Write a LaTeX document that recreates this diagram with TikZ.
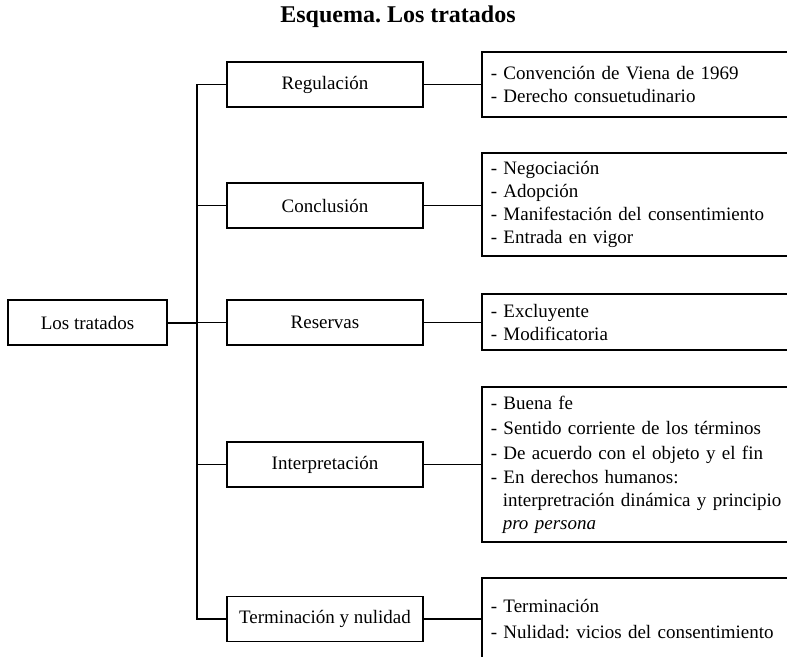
\documentclass[tikz,border=0pt]{standalone}
\usepackage{fontspec}
\setmainfont{Liberation Serif}
\frenchspacing
\newcommand{\sangria}{\hspace*{12pt}}

\begin{document}
\begin{tikzpicture}
                \tikzset{x=1pt, y=-1pt}
                \tikzstyle{caja}=[rectangle, draw, line width=1.6pt, inner sep=0pt, font=\fontsize{19}{23}\selectfont]
                \tikzstyle{tema}=[caja, minimum width=196pt, minimum height=45pt]
                \tikzstyle{lista}=[caja, anchor=west, minimum width=330pt, text width=312pt, inner xsep=9pt, align=left]
                \tikzstyle{rama}=[line width=1.6pt]

                \useasboundingbox (0,0) rectangle (787,656);
                \clip (0,0) rectangle (787,656);

                \draw (398, 17)     node[font=\fontsize{24}{28}\selectfont\bfseries] (titulo) {Esquema. Los tratados};

                \draw (87.5, 322.5) node[caja, minimum width=159pt, minimum height=45pt] (tratados) {Los tratados};

                \draw (325, 84.5)   node[tema]  (regulacion)     {Regulación};
                \draw (325, 205.5)  node[tema]  (conclusion)     {Conclusión};
                \draw (325, 322.5)  node[tema]  (reservas)       {Reservas};
                \draw (325, 464.5)  node[tema]  (interpretacion) {Interpretación};
                \draw (325, 619)    node[tema]  (terminacion)    {Terminación y nulidad};

                \draw (481, 84.5)   node[lista, minimum height=65pt]  (lregulacion)
                    {- Convención de Viena de 1969\\- Derecho consuetudinario};
                \draw (481, 204.5)  node[lista, minimum height=103pt] (lconclusion)
                    {- Negociación\\- Adopción\\- Manifestación del consentimiento\\- Entrada en vigor};
                \draw (481, 322)    node[lista, minimum height=56pt]  (lreservas)
                    {- Excluyente\\- Modificatoria};
                \draw (481, 464.5)  node[lista, minimum height=155pt] (linterpretacion)
                    {- Buena fe\\[2pt]- Sentido corriente de los términos\\[2pt]- De acuerdo con el objeto y el fin\\[1pt]- En derechos humanos:\\\sangria interpretración dinámica y principio\\\sangria\textit{pro persona}};
                \draw (481, 619)    node[lista, minimum height=82pt]  (lterminacion)
                    {- Terminación\\[3pt]- Nulidad: vicios del consentimiento};

                \coordinate (tronco) at (197, 0);

                \draw [rama, line width=2pt] (tratados.east) -- (tratados.east -| tronco);
                \draw [rama] (regulacion.west) -- (regulacion.west -| tronco) -- (terminacion.west -| tronco) -- (terminacion.west);
                \foreach \n in {conclusion, reservas, interpretacion}
                    \draw [rama] (\n.west -| tronco) -- (\n.west);

                \foreach \n in {regulacion, conclusion, reservas, interpretacion, terminacion}
                    \draw [rama] (\n.east) -- (l\n.west |- \n.east);
            \end{tikzpicture}
\end{document}
